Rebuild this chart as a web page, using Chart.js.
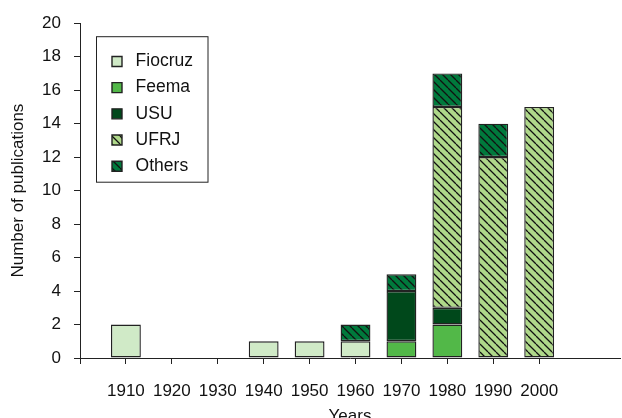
<!DOCTYPE html>
<html>
<head>
<meta charset="utf-8">
<script src="https://cdn.jsdelivr.net/npm/chart.js@4.4.1/dist/chart.umd.min.js"></script>
<style>
  html, body { margin: 0; padding: 0; background: #fff; }
</style>
</head>
<body>
<canvas id="chart" width="622" height="418"></canvas>
<script>
// decades on the x axis
const years = [1910, 1920, 1930, 1940, 1950, 1960, 1970, 1980, 1990, 2000];
const yTicks = [0, 2, 4, 6, 8, 10, 12, 14, 16, 18, 20];

// publications per decade and institution
const fiocruz = [2, 0, 0, 1, 1, 1, 0, 0, 0, 0];
const feema   = [0, 0, 0, 0, 0, 0, 1, 2, 0, 0];
const usu     = [0, 0, 0, 0, 0, 0, 3, 1, 0, 0];
const ufrj    = [0, 0, 0, 0, 0, 0, 0, 12, 12, 15];
const others  = [0, 0, 0, 0, 0, 1, 1, 2, 2, 0];

const FONT = '"Liberation Sans", Arial, sans-serif';

function hatch(bg) {
  const s = 8;
  const c = document.createElement('canvas');
  c.width = s; c.height = s;
  const g = c.getContext('2d');
  g.fillStyle = bg;
  g.fillRect(0, 0, s, s);
  g.strokeStyle = '#111';
  g.lineWidth = 1.3;
  g.beginPath();
  for (const o of [-s, 0, s]) {
    g.moveTo(o, 0);
    g.lineTo(o + s, s);
  }
  g.stroke();
  return g.createPattern(c, 'repeat');
}

function toPoints(vals) {
  return years.map((yr, i) => ({ x: yr, y: vals[i] === 0 ? null : vals[i] }));
}

function series(label, vals, fill) {
  return {
    label: label,
    data: toPoints(vals),
    backgroundColor: fill,
    borderColor: '#222',
    borderWidth: 1.4,
    borderSkipped: false,
    categoryPercentage: 1,
    barPercentage: 0.65
  };
}

// moves the legend into the plot and draws its frame
const legendFrame = {
  id: 'legendFrame',
  afterLayout(chart) {
    const lg = chart.legend;
    lg.left = chart.chartArea.left + 23.3;
    lg.top = chart.chartArea.top + 20.8;
  },
  afterDraw(chart) {
    const ca = chart.chartArea;
    const ctx = chart.ctx;
    ctx.save();
    ctx.strokeStyle = '#222';
    ctx.lineWidth = 1;
    ctx.strokeRect(ca.left + 16.5, ca.top + 13.5, 111.5, 145.5);
    ctx.restore();
  }
};

new Chart(document.getElementById('chart'), {
  type: 'bar',
  data: {
    datasets: [
      series('Fiocruz', fiocruz, '#d0eac7'),
      series('Feema', feema, '#52b848'),
      series('USU', usu, '#00481b'),
      series('UFRJ', ufrj, hatch('#afd88a')),
      series('Others', others, hatch('#00793c'))
    ]
  },
  options: {
    responsive: false,
    animation: false,
    layout: { padding: { top: 22, right: 2, left: 0, bottom: 0 } },
    plugins: {
      tooltip: { enabled: false },
      legend: {
        position: 'chartArea',
        align: 'start',
        labels: {
          boxWidth: 10,
          boxHeight: 10,
          padding: 8.7,
          color: '#111',
          font: { family: FONT, size: 17.5 },
          generateLabels(chart) {
            const items = Chart.defaults.plugins.legend.labels.generateLabels(chart);
            items.forEach(it => { it.text = ' ' + it.text; });
            return items;
          }
        }
      }
    },
    scales: {
      x: {
        type: 'linear',
        stacked: true,
        min: 1900,
        max: 2017.6,
        offset: false,
        afterBuildTicks(s) {
          s.ticks = [1900].concat(years).map(v => ({ value: v }));
        },
        afterFit(s) { s.height = 60; },
        ticks: {
          autoSkip: false,
          maxRotation: 0,
          padding: 17.5,
          color: '#111',
          font: { family: FONT, size: 17 },
          callback: v => (v === 1900 ? '' : String(v))
        },
        grid: { offset: false, drawOnChartArea: false, tickLength: 6, color: '#222' },
        border: { color: '#222', width: 1 },
        title: {
          display: true,
          text: 'Years',
          color: '#111',
          font: { family: FONT, size: 17 },
          padding: { top: 0, bottom: -9 }
        }
      },
      y: {
        stacked: true,
        min: 0,
        max: 20,
        afterBuildTicks(s) {
          s.ticks = yTicks.map(v => ({ value: v }));
        },
        afterFit(s) { s.width = 80; },
        ticks: {
          padding: 13,
          color: '#111',
          font: { family: FONT, size: 17 }
        },
        grid: { drawOnChartArea: false, tickLength: 6, color: '#222' },
        border: { color: '#222', width: 1 },
        title: {
          display: true,
          text: 'Number of publications',
          color: '#111',
          font: { family: FONT, size: 17 },
          padding: { top: 8, bottom: 0 }
        }
      }
    }
  },
  plugins: [legendFrame]
});
</script>
</body>
</html>
